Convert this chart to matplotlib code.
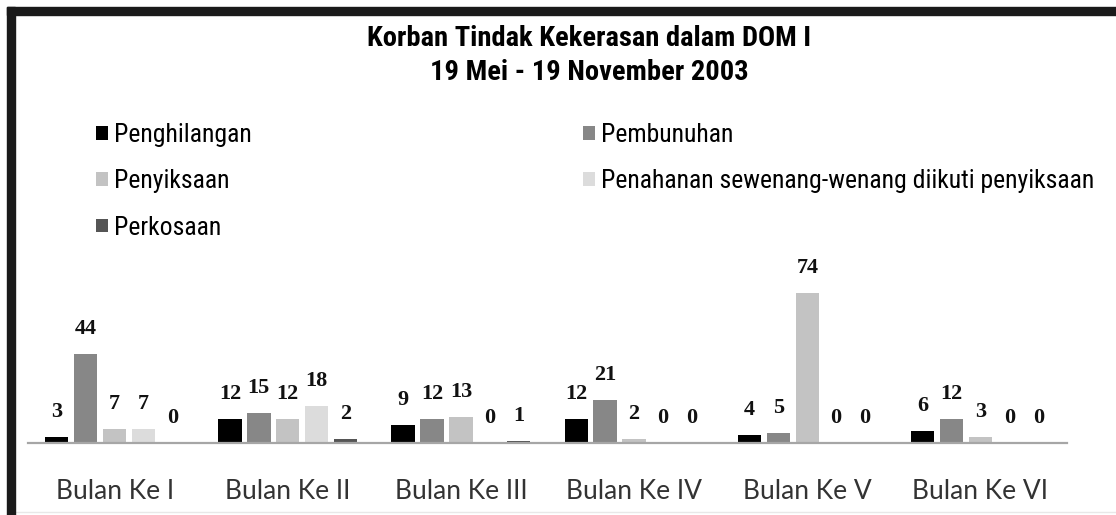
import matplotlib

matplotlib.use("Agg")
import matplotlib.pyplot as plt
import numpy as np
from matplotlib.patches import Rectangle
from matplotlib.lines import Line2D

# data
months = ["Bulan Ke I", "Bulan Ke II", "Bulan Ke III", "Bulan Ke IV", "Bulan Ke V", "Bulan Ke VI"]
series_names = [
    "Penghilangan",
    "Pembunuhan",
    "Penyiksaan",
    "Penahanan sewenang-wenang diikuti penyiksaan",
    "Perkosaan",
]
penghilangan = [3, 12, 9, 12, 4, 6]
pembunuhan = [44, 15, 12, 21, 5, 12]
penyiksaan = [7, 12, 13, 2, 74, 3]
penahanan = [7, 18, 0, 0, 0, 0]
perkosaan = [0, 2, 1, 0, 0, 0]

title_lines = ["Korban Tindak Kekerasan dalam DOM I", "19 Mei - 19 November 2003"]

colors = ["#000000", "#878787", "#c3c3c3", "#dcdcdc", "#555555"]

W, H, DPI = 1116, 515, 100
NARROW = ["Roboto Condensed", "Roboto", "DejaVu Sans"]


def px(x: float, y: float) -> tuple[float, float]:
    """pixel (from top-left) -> figure fraction"""
    return x / W, 1 - y / H


def main() -> None:
    fig = plt.figure(figsize=(W / DPI, H / DPI), dpi=DPI)
    fig.patch.set_facecolor("white")

    # plot area: baseline at y=443, 2.03 px per unit
    left, right, base, top = 28, 1067, 443, 255
    ax = fig.add_axes([left / W, 1 - base / H, (right - left) / W, (base - top) / H])
    ax.set_xlim(-0.5, len(months) - 0.5)
    ax.set_ylim(0, (base - top) / 2.03)

    all_values = [penghilangan, pembunuhan, penyiksaan, penahanan, perkosaan]
    x = np.arange(len(months))
    step, width = 0.167, 0.135
    bars = []
    for i, (vals, color, name) in enumerate(zip(all_values, colors, series_names)):
        pos = x + (i - 2) * step
        b = ax.bar(pos, vals, width=width, color=color, label=name, zorder=2)
        bars.append(b)
        for xp, v in zip(pos, vals):
            ax.annotate(
                str(v), (xp, v), xytext=(0, 18), textcoords="offset points",
                ha="center", va="center", fontsize=16, fontweight="bold",
                family=["Liberation Serif", "DejaVu Serif"], color="#111111",
            )

    for side in ("left", "right", "top"):
        ax.spines[side].set_visible(False)
    ax.spines["bottom"].set_color("#a6a6a6")
    ax.spines["bottom"].set_linewidth(1.6)
    ax.set_yticks([])
    ax.set_xticks(x)
    ax.set_xticklabels(months, fontsize=19, family=["Lato", "DejaVu Sans"], color="#333333")
    ax.tick_params(axis="x", length=0, pad=26)
    ax.set_facecolor("none")

    # title
    for line, yy in zip(title_lines, (38, 72)):
        fig.text(*px(589, yy), line, ha="center", va="center", fontsize=20.5,
                 fontweight="bold", family=NARROW)

    # legend, two columns filled column-first
    order = [0, 2, 4, 1, 3]
    handles = [bars[i] for i in order]
    labels = [series_names[i] for i in order]
    fig.legend(
        handles, labels, ncol=2, loc="upper left", bbox_to_anchor=px(96, 123),
        frameon=False, borderpad=0, borderaxespad=0,
        prop={"family": NARROW, "size": 18.5},
        handlelength=0.45, handleheight=0.45, handletextpad=0.25,
        columnspacing=12.9, labelspacing=0.87,
    )

    # black frame on top and left, faint line at the bottom
    fig.add_artist(Rectangle(px(7, 15), 1 - 7 / W, 8 / H, transform=fig.transFigure,
                             color="#1a1a1a", zorder=5))
    fig.add_artist(Rectangle(px(7, H), 8 / W, 1 - 7 / H, transform=fig.transFigure,
                             color="#1a1a1a", zorder=5))
    fig.add_artist(Line2D([15 / W, 1], [1 - 512 / H] * 2, transform=fig.transFigure,
                          color="#e8e8e8", linewidth=1))

    fig.savefig("out.png", dpi=DPI)
    plt.close(fig)


if __name__ == "__main__":
    main()
